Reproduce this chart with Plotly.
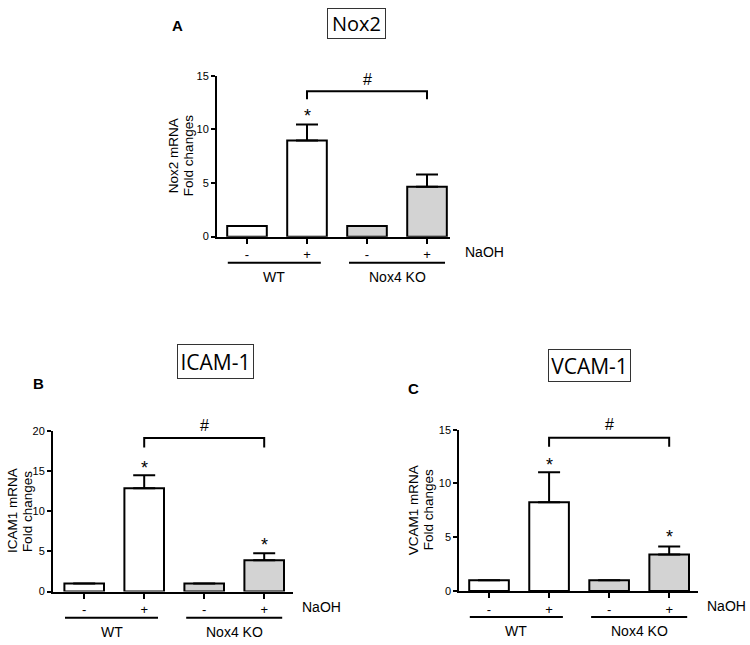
import plotly.graph_objects as go

# ---------------- data ----------------
naoh_labels = ["-", "+", "-", "+"]
group_labels = ["WT", "Nox4 KO"]
bar_fill = ["white", "white", "#d3d3d3", "#d3d3d3"]

nox2_mean = [1.0, 8.95, 1.0, 4.65]
nox2_err = [0.0, 1.5, 0.0, 1.15]
nox2_ticks = [0, 5, 10, 15]
nox2_bracket = [12.8, 13.55]

icam1_mean = [1.0, 12.85, 1.0, 3.88]
icam1_err = [0.0, 1.6, 0.0, 0.9]
icam1_ticks = [0, 5, 10, 15, 20]
icam1_bracket = [17.9, 19.1]

vcam1_mean = [1.0, 8.25, 1.0, 3.38]
vcam1_err = [0.0, 2.8, 0.0, 0.76]
vcam1_ticks = [0, 5, 10, 15]
vcam1_bracket = [13.4, 14.25]

FONT = "Liberation Sans, Arial, sans-serif"
BOXFONT = "Liberation Sans Narrow, Arial Narrow, Open Sans, sans-serif"
W, H = 750, 645

panels = [
    dict(letter="A", title="Nox2", ytitle=["Nox2 mRNA", "Fold changes"],
         mean=nox2_mean, err=nox2_err, ticks=nox2_ticks, bracket=nox2_bracket,
         star_idx=[1], star_off=[0.8], hash_y=14.6, yr=[0, 15],
         xd=[217, 450], yd=[71, 235], xr=[-0.5, 3.383],
         box=(356.5, 18, 59, 31, 20), letter_pos=(177, 20), ytitle_x=[173, 188]),
    dict(letter="B", title="ICAM-1", ytitle=["ICAM1 mRNA", "Fold changes"],
         mean=icam1_mean, err=icam1_err, ticks=icam1_ticks, bracket=icam1_bracket,
         star_idx=[1, 3], star_off=[0.92, 1.06], hash_y=20.7, yr=[0, 20],
         xd=[53, 293], yd=[432.7, 596.7], xr=[-0.52, 3.48],
         box=(215.3, 362.5, 77, 35, 21), letter_pos=(38, 385), ytitle_x=[12, 27]),
    dict(letter="C", title="VCAM-1", ytitle=["VCAM1 mRNA", "Fold changes"],
         mean=vcam1_mean, err=vcam1_err, ticks=vcam1_ticks, bracket=vcam1_bracket,
         star_idx=[1, 3], star_off=[0.7, 0.9], hash_y=15.45, yr=[0, 15],
         xd=[459.3, 698], yd=[431.7, 596], xr=[-0.495, 3.48],
         box=(589, 366, 83, 33, 21), letter_pos=(413, 390), ytitle_x=[413, 428]),
]

fig = go.Figure()
shapes = []
annotations = []
xpos = list(range(len(naoh_labels)))

for i, p in enumerate(panels):
    sfx = "" if i == 0 else str(i + 1)
    xa, ya = "x" + sfx, "y" + sfx
    ymax = p["yr"][1]
    # bars
    fig.add_trace(go.Bar(
        x=xpos, y=p["mean"], width=0.66,
        marker=dict(color=bar_fill, line=dict(color="black", width=2)),
        error_y=dict(type="data", symmetric=False, array=p["err"],
                     arrayminus=[0] * len(p["err"]), color="black",
                     thickness=2, width=11, visible=True),
        xaxis=xa, yaxis=ya, showlegend=False, hoverinfo="skip"))
    # bracket
    b0, b1 = p["bracket"]
    fig.add_trace(go.Scatter(
        x=[1, 1, 3, 3], y=[b0, b1, b1, b0], mode="lines",
        line=dict(color="black", width=2), xaxis=xa, yaxis=ya,
        showlegend=False, hoverinfo="skip", cliponaxis=False))
    # stars (significance vs control)
    for k, off in zip(p["star_idx"], p["star_off"]):
        yv = p["mean"][k] + p["err"][k] + off
        annotations.append(dict(text="*", xref=xa, yref=ya + " domain",
                                x=k, y=yv / ymax, showarrow=False,
                                xanchor="center", yanchor="middle",
                                font=dict(family=FONT, size=18, color="black")))
    # hash (WT vs KO)
    annotations.append(dict(text="#", xref=xa, yref=ya + " domain",
                            x=2, y=p["hash_y"] / ymax, showarrow=False,
                            xanchor="center", yanchor="middle",
                            font=dict(family=FONT, size=16, color="black")))

    dom_x = [p["xd"][0] / W, p["xd"][1] / W]
    dom_y = [1 - p["yd"][1] / H, 1 - p["yd"][0] / H]
    hpx = p["yd"][1] - p["yd"][0]
    xspan = p["xr"][1] - p["xr"][0]
    fig.update_layout(**{
        "xaxis" + sfx: dict(domain=dom_x, range=p["xr"], anchor=ya,
                            tickvals=xpos, ticktext=naoh_labels,
                            ticks="outside", ticklen=5, tickwidth=2, tickcolor="black",
                            showline=True, linecolor="black", linewidth=2,
                            showgrid=False, zeroline=False,
                            tickfont=dict(family=FONT, size=13, color="black")),
        "yaxis" + sfx: dict(domain=dom_y, range=p["yr"], anchor=xa,
                            tickvals=p["ticks"], ticks="outside", ticklen=4,
                            tickwidth=2, tickcolor="black",
                            showline=True, linecolor="black", linewidth=2,
                            showgrid=False, zeroline=False,
                            tickfont=dict(family=FONT, size=11, color="black")),
    })
    # group lines and labels
    for gl, (g0, g1) in zip(group_labels, [(-0.32, 1.23), (1.7, 3.3)]):
        shapes.append(dict(type="line", xref=xa, yref=ya + " domain",
                           x0=g0, x1=g1, y0=-26.7 / hpx, y1=-26.7 / hpx,
                           line=dict(color="black", width=2)))
        annotations.append(dict(text=gl, xref=xa, yref=ya + " domain",
                                x=(g0 + g1) / 2, y=-41 / hpx, showarrow=False,
                                xanchor="center", yanchor="middle",
                                font=dict(family=FONT, size=14, color="black")))
    annotations.append(dict(text="NaOH", xref=xa + " domain", yref=ya + " domain",
                            x=(3.6 - p["xr"][0]) / xspan, y=-15.5 / hpx, showarrow=False,
                            xanchor="left", yanchor="middle",
                            font=dict(family=FONT, size=14, color="black")))
    # y title (two lines)
    for line_text, lx in zip(p["ytitle"], p["ytitle_x"]):
        annotations.append(dict(text=line_text, xref="paper", yref=ya + " domain",
                                x=lx / W, y=0.5, textangle=-90,
                                showarrow=False, xanchor="center", yanchor="middle",
                                font=dict(family=FONT, size=13.5, color="black")))
    # title box
    cx, cy, bw, bh, fs = p["box"]
    annotations.append(dict(text=p["title"], xref="paper", yref="paper",
                            x=cx / W, y=1 - cy / H, showarrow=False,
                            xanchor="center", yanchor="middle",
                            width=bw - 2, height=bh - 2, borderpad=0,
                            bordercolor="#333333", borderwidth=1,
                            font=dict(family=BOXFONT, size=fs, color="black")))
    # panel letter
    lx, ly = p["letter_pos"]
    annotations.append(dict(text="<b>" + p["letter"] + "</b>", xref="paper", yref="paper",
                            x=lx / W, y=1 - ly / H, showarrow=False,
                            xanchor="center", yanchor="middle",
                            font=dict(family=FONT, size=15, color="black")))

fig.update_layout(width=W, height=H, margin=dict(l=0, r=0, t=0, b=0),
                  paper_bgcolor="white", plot_bgcolor="white",
                  shapes=shapes, annotations=annotations, bargap=0.3)

fig.write_html("out.html", config={"displayModeBar": False},
               post_script="document.body.style.margin='0';document.body.style.overflow='hidden';")
